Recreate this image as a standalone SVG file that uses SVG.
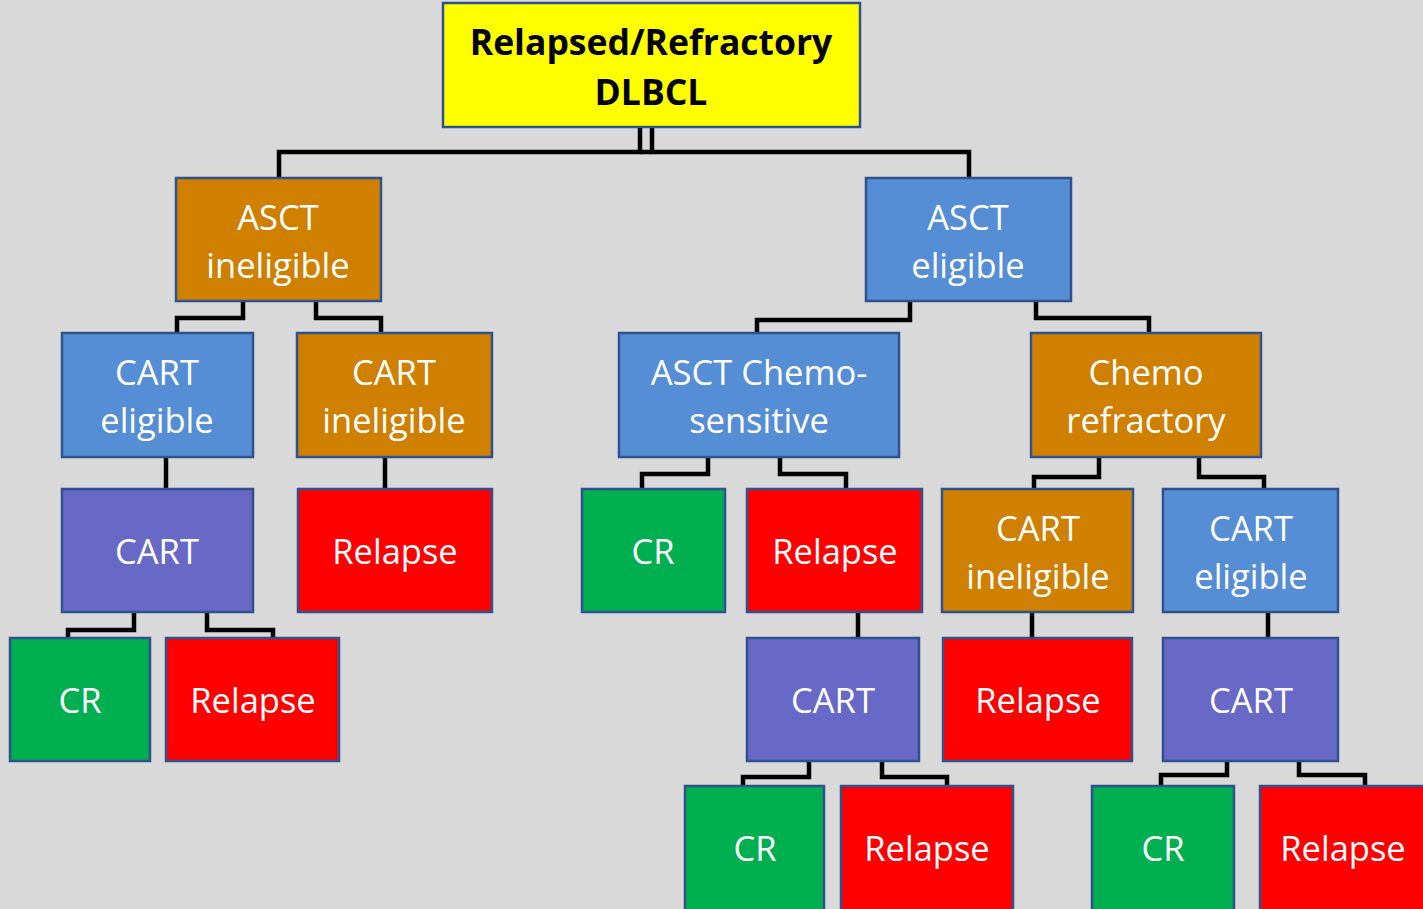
<svg xmlns="http://www.w3.org/2000/svg" width="1423" height="909" viewBox="0 0 1423 909">
<style>
.b{stroke:#2F528F;stroke-width:2.5}
.y{fill:#FFFF00}.o{fill:#D08000}.bl{fill:#558ED5}.p{fill:#6868C6}.g{fill:#00B050}.r{fill:#FF0000}
text{font-family:"Open Sans","Liberation Sans",sans-serif;font-size:34.5px;fill:#fff;text-anchor:middle;dominant-baseline:central}
.t{font-weight:bold;fill:#000;font-size:35.5px}
.c{fill:none;stroke:#000;stroke-width:4.5;stroke-linejoin:miter}
</style>
<rect width="1423" height="909" fill="#D9D9D9"/>
<g id="connectors" class="c">
<path d="M640 127V152H279V178"/>
<path d="M652 127V152H969V178"/>
<path d="M640 152H652"/>
<path d="M243 301V318H177V333"/>
<path d="M316 301V318H381V333"/>
<path d="M910 301V320H757V333"/>
<path d="M1036 301V318H1149V333"/>
<path d="M166 457V489"/>
<path d="M385 457V489"/>
<path d="M708 457V474H642V489"/>
<path d="M780 457V474H846V489"/>
<path d="M1099 457V477H1034V489"/>
<path d="M1199 457V477H1264V489"/>
<path d="M134 612V630H68V638"/>
<path d="M207 612V630H273V638"/>
<path d="M858 612V638"/>
<path d="M1032 612V638"/>
<path d="M1268 612V638"/>
<path d="M809 761V777H743V786"/>
<path d="M882 761V777H947V786"/>
<path d="M1227 761V775H1161V786"/>
<path d="M1299 761V775H1365V786"/>
</g>
<g id="root"><rect class="b y" x="443" y="3" width="417" height="124"/><text class="t" x="651" y="41">Relapsed/Refractory</text><text class="t" x="651" y="91">DLBCL</text></g>
<g id="asct-ineligible"><rect class="b o" x="176" y="178" width="205" height="123"/><text x="278" y="216">ASCT</text><text x="278" y="264">ineligible</text></g>
<g id="asct-eligible"><rect class="b bl" x="866" y="178" width="205" height="123"/><text x="968" y="216">ASCT</text><text x="968" y="264">eligible</text></g>
<g id="cart-eligible-1"><rect class="b bl" x="62" y="333" width="191" height="124"/><text x="157" y="371">CART</text><text x="157" y="419">eligible</text></g>
<g id="cart-ineligible-1"><rect class="b o" x="297" y="333" width="195" height="124"/><text x="394" y="371">CART</text><text x="394" y="419">ineligible</text></g>
<g id="asct-chemo-sensitive"><rect class="b bl" x="619" y="333" width="280" height="124"/><text x="759" y="371">ASCT Chemo-</text><text x="759" y="419">sensitive</text></g>
<g id="chemo-refractory"><rect class="b o" x="1031" y="333" width="230" height="124"/><text x="1146" y="371">Chemo</text><text x="1146" y="419">refractory</text></g>
<g id="cart-1"><rect class="b p" x="62" y="489" width="191" height="123"/><text x="157" y="550">CART</text></g>
<g id="relapse-1"><rect class="b r" x="298" y="489" width="194" height="123"/><text x="395" y="550">Relapse</text></g>
<g id="cr-2"><rect class="b g" x="582" y="489" width="143" height="123"/><text x="653" y="550">CR</text></g>
<g id="relapse-2"><rect class="b r" x="747" y="489" width="175" height="123"/><text x="835" y="550">Relapse</text></g>
<g id="cart-ineligible-2"><rect class="b o" x="942" y="489" width="191" height="123"/><text x="1038" y="527">CART</text><text x="1038" y="575">ineligible</text></g>
<g id="cart-eligible-2"><rect class="b bl" x="1163" y="489" width="175" height="123"/><text x="1251" y="527">CART</text><text x="1251" y="575">eligible</text></g>
<g id="cr-1"><rect class="b g" x="10" y="638" width="140" height="123"/><text x="80" y="699">CR</text></g>
<g id="relapse-3"><rect class="b r" x="166" y="638" width="173" height="123"/><text x="253" y="699">Relapse</text></g>
<g id="cart-2"><rect class="b p" x="747" y="638" width="172" height="123"/><text x="833" y="699">CART</text></g>
<g id="relapse-4"><rect class="b r" x="943" y="638" width="189" height="123"/><text x="1038" y="699">Relapse</text></g>
<g id="cart-3"><rect class="b p" x="1163" y="638" width="175" height="123"/><text x="1251" y="699">CART</text></g>
<g id="cr-3"><rect class="b g" x="685" y="786" width="139" height="130"/><text x="755" y="847">CR</text></g>
<g id="relapse-5"><rect class="b r" x="841" y="786" width="172" height="130"/><text x="927" y="847">Relapse</text></g>
<g id="cr-4"><rect class="b g" x="1092" y="786" width="142" height="130"/><text x="1163" y="847">CR</text></g>
<g id="relapse-6"><rect class="b r" x="1260" y="786" width="170" height="130"/><text x="1343" y="847">Relapse</text></g>
</svg>
